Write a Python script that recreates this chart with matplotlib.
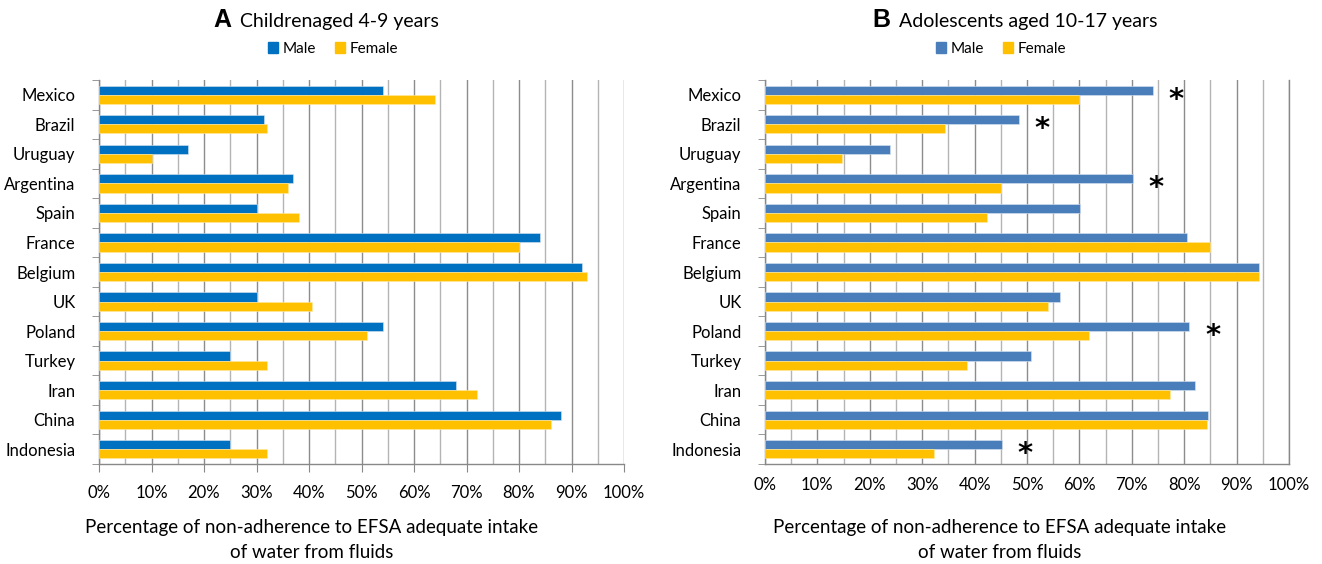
import numpy as np
import matplotlib
matplotlib.use("Agg")
import matplotlib.pyplot as plt
from matplotlib.patches import Patch
from matplotlib.ticker import MultipleLocator, PercentFormatter

plt.rcParams['font.family'] = ['Lato', 'DejaVu Sans']

countries = ["Mexico", "Brazil", "Uruguay", "Argentina", "Spain", "France", "Belgium",
             "UK", "Poland", "Turkey", "Iran", "China", "Indonesia"]

# % not meeting EFSA adequate intake of water from fluids
children_male = [54, 31.5, 17, 37, 30, 84, 92, 30, 54, 25, 68, 88, 25]
children_female = [64, 32, 10, 36, 38, 80, 93, 40.5, 51, 32, 72, 86, 32]

teen_male = [74, 48.4, 23.8, 70.2, 60.1, 80.5, 94.2, 56.3, 81, 50.7, 82.1, 84.6, 45.2]
teen_female = [60, 34.4, 14.7, 45, 42.3, 85, 94.2, 54.1, 61.8, 38.5, 77.3, 84.4, 32.3]

# countries with a significant male/female difference among adolescents
teen_signif = ["Mexico", "Brazil", "Argentina", "Poland", "Indonesia"]

YELLOW = "#FFC000"
W, H = 1322, 564
fig = plt.figure(figsize=(W / 100, H / 100), dpi=100)


def panel(left, right, male, female, male_color, right_spine):
    ax = fig.add_axes([left / W, 1 - 464 / H, (right - left) / W, (464 - 80) / H])
    y = np.arange(len(countries))
    h = 0.31
    ax.barh(y - h / 2, male, h, color=male_color, edgecolor="#d8e4f0", linewidth=0.4, zorder=3)
    ax.barh(y + h / 2, female, h, color=YELLOW, edgecolor="#ffe9a0", linewidth=0.4, zorder=3)
    ax.set_ylim(len(countries) - 0.5, -0.5)
    ax.set_xlim(0, 100)
    ax.set_yticks(y)
    ax.set_yticklabels(countries, fontsize=12)
    ax.set_yticks(np.arange(len(countries) + 1) - 0.5, minor=True)
    ax.tick_params(axis="y", which="major", length=0, pad=17)
    ax.tick_params(axis="y", which="minor", length=5, color="#888888", direction="out")
    ax.xaxis.set_major_locator(MultipleLocator(10))
    ax.xaxis.set_minor_locator(MultipleLocator(5))
    ax.xaxis.set_major_formatter(PercentFormatter(decimals=0))
    ax.tick_params(axis="x", which="major", labelsize=12, pad=9,
                   length=6 if not right_spine else 0, color="#888888")
    ax.tick_params(axis="x", which="minor", length=0)
    ax.grid(axis="x", which="major", color="#8c8c8c", linewidth=1.0, zorder=0)
    ax.grid(axis="x", which="minor", color="#b4b4b4", linewidth=1.0, zorder=0)
    ax.spines["top"].set_visible(False)
    ax.spines["right"].set_visible(right_spine)
    for s in ("left", "bottom", "right"):
        ax.spines[s].set_color("#888888")
        ax.spines[s].set_linewidth(1.0)
    return ax


ax1 = panel(99, 624, children_male, children_female, "#0070C0", False)
ax2 = panel(765, 1289, teen_male, teen_female, "#4A7EBB", True)

for c in teen_signif:
    i = countries.index(c)
    ax2.text(teen_male[i] + 4.5, i + 0.17, "*", fontsize=21, fontweight="bold",
             family="DejaVu Sans", ha="center", va="center", zorder=4)

# panel titles
fig.text(231 / W, 1 - 20 / H, "A", fontsize=18, fontweight="bold",
         family="Liberation Sans", ha="right", va="center")
fig.text(240 / W, 1 - 21 / H, "Childrenaged 4-9 years", fontsize=14, ha="left", va="center")
fig.text(890 / W, 1 - 20 / H, "B", fontsize=18, fontweight="bold",
         family="Liberation Sans", ha="right", va="center")
fig.text(899 / W, 1 - 21 / H, "Adolescents aged 10-17 years", fontsize=14, ha="left", va="center")

for cx, mc in ((333, "#0070C0"), (1001, "#4A7EBB")):
    fig.legend(handles=[Patch(color=mc, label="Male"), Patch(color=YELLOW, label="Female")],
               loc="center", bbox_to_anchor=(cx / W, 1 - 49 / H), ncol=2, frameon=False,
               fontsize=11, handlelength=0.7, handleheight=0.7, handletextpad=0.3,
               columnspacing=1.2)

for cx in (312, 1000):
    fig.text(cx / W, 1 - 527 / H, "Percentage of non-adherence to EFSA adequate intake",
             fontsize=13.5, ha="center", va="center")
    fig.text(cx / W, 1 - 553 / H, "of water from fluids", fontsize=13.5, ha="center", va="center")

fig.savefig("out.png", dpi=100)
